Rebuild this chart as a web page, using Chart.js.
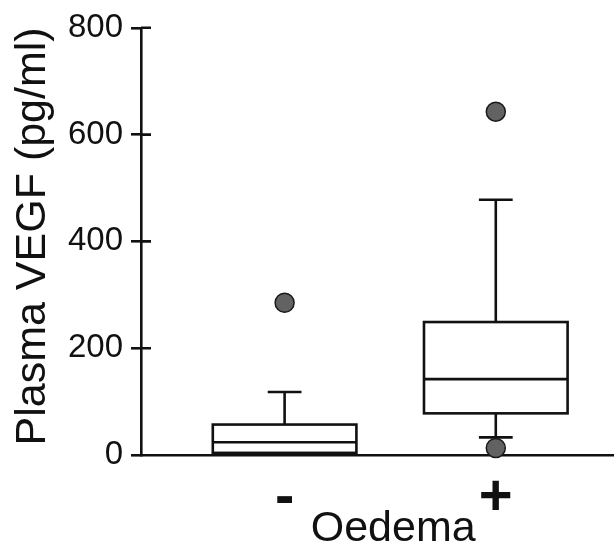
<!DOCTYPE html>
<html>
<head>
<meta charset="utf-8">
<script src="https://cdn.jsdelivr.net/npm/chart.js@4"></script>
<style>
  html, body { margin: 0; padding: 0; background: #fff; }
  #wrap { width: 616px; height: 542px; }
</style>
</head>
<body>
<div id="wrap"><canvas id="boxChart"></canvas></div>
<script>
// groups on the x axis
const groups = ["-", "+"];
// box plot summary per group (pg/ml)
const whiskerLow = [4, 33];
const q1 = [4, 78];
const median = [24, 142];
const q3 = [57, 249];
const whiskerHigh = [118, 478];
// outliers: group index, value
const outlierGroup = [0, 1, 1];
const outlierValue = [285, 643, 13];
const yTicks = [0, 200, 400, 600, 800];
const xTitle = "Oedema";
const yTitle = "Plasma VEGF (pg/ml)";

const boxWidth = 0.68;
const capWidth = 0.16;
const font = "'Liberation Sans', Arial, Helvetica, sans-serif";

const boxPlot = {
  id: "boxPlot",
  beforeDatasetsDraw(chart) {
    const { ctx, scales: { x, y } } = chart;
    ctx.save();
    ctx.strokeStyle = "#111";
    ctx.lineWidth = 2.6;
    groups.forEach((g, i) => {
      const cx = x.getPixelForValue(i + 1);
      const bh = x.getPixelForValue(i + 1 + boxWidth / 2) - cx;
      const ch = x.getPixelForValue(i + 1 + capWidth / 2) - cx;
      const yq1 = y.getPixelForValue(q1[i]);
      const yq3 = y.getPixelForValue(q3[i]);
      const ymed = y.getPixelForValue(median[i]);
      const yhi = y.getPixelForValue(whiskerHigh[i]);
      const ylo = y.getPixelForValue(whiskerLow[i]);
      ctx.beginPath();
      // upper whisker + cap
      ctx.moveTo(cx, yq3); ctx.lineTo(cx, yhi);
      ctx.moveTo(cx - ch, yhi); ctx.lineTo(cx + ch, yhi);
      // lower whisker + cap
      if (whiskerLow[i] < q1[i]) {
        ctx.moveTo(cx, yq1); ctx.lineTo(cx, ylo);
        ctx.moveTo(cx - ch, ylo); ctx.lineTo(cx + ch, ylo);
      }
      ctx.stroke();
      // box
      ctx.fillStyle = "#fff";
      ctx.fillRect(cx - bh, yq3, bh * 2, yq1 - yq3);
      ctx.strokeRect(cx - bh, yq3, bh * 2, yq1 - yq3);
      ctx.beginPath();
      ctx.moveTo(cx - bh, ymed); ctx.lineTo(cx + bh, ymed);
      ctx.stroke();
    });
    // inner half of the y tick marks
    ctx.beginPath();
    yTicks.forEach(v => {
      const py = y.getPixelForValue(v);
      if (v > 0) { ctx.moveTo(x.left, py); ctx.lineTo(x.left + 10, py); }
    });
    ctx.stroke();
    ctx.restore();
  },
  afterDraw(chart) {
    const { ctx, scales: { x, y } } = chart;
    ctx.save();
    ctx.fillStyle = "#111";
    ctx.textAlign = "center";
    ctx.textBaseline = "alphabetic";
    // x title, centred between the two groups
    ctx.font = "43px " + font;
    const mid = (x.getPixelForValue(1) + x.getPixelForValue(groups.length)) / 2;
    ctx.fillText(xTitle, mid + 3, 541);
    // y title, rotated
    ctx.translate(45, (y.top + y.bottom) / 2 - 5);
    ctx.rotate(-Math.PI / 2);
    ctx.fillText(yTitle, 0, 0);
    ctx.restore();
  }
};

new Chart(document.getElementById("boxChart"), {
  type: "scatter",
  data: {
    datasets: [{
      data: outlierValue.map((v, i) => ({ x: outlierGroup[i] + 1, y: v })),
      pointRadius: 9.5,
      pointBackgroundColor: "#626262",
      pointBorderColor: "#1a1a1a",
      pointBorderWidth: 1.5,
      clip: false
    }]
  },
  options: {
    responsive: true,
    maintainAspectRatio: false,
    animation: false,
    layout: { autoPadding: false, padding: { top: 23, right: 3, left: 0, bottom: 0 } },
    plugins: { legend: { display: false }, tooltip: { enabled: false } },
    scales: {
      x: {
        type: "linear",
        min: 0.32,
        max: 2.555,
        afterBuildTicks: s => { s.ticks = groups.map((_, i) => ({ value: i + 1 })); },
        afterFit: s => { s.height = 87; s.paddingLeft = 0; s.paddingRight = 0; },
        grid: { display: false },
        border: { display: true, color: "#111", width: 2.6 },
        ticks: {
          color: "#111",
          padding: 1,
          font: { family: font, size: 58, weight: "bold" },
          callback: v => groups[v - 1]
        }
      },
      y: {
        min: 0,
        max: 800,
        afterBuildTicks: s => { s.ticks = yTicks.map(v => ({ value: v })); },
        afterFit: s => { s.width = 141; },
        grid: {
          display: true,
          drawOnChartArea: false,
          drawTicks: true,
          tickLength: 10,
          color: "#111",
          lineWidth: 2.6
        },
        border: { display: true, color: "#111", width: 2.6 },
        ticks: {
          color: "#111",
          padding: 8,
          font: { family: font, size: 33 }
        }
      }
    }
  },
  plugins: [boxPlot]
});
</script>
</body>
</html>
